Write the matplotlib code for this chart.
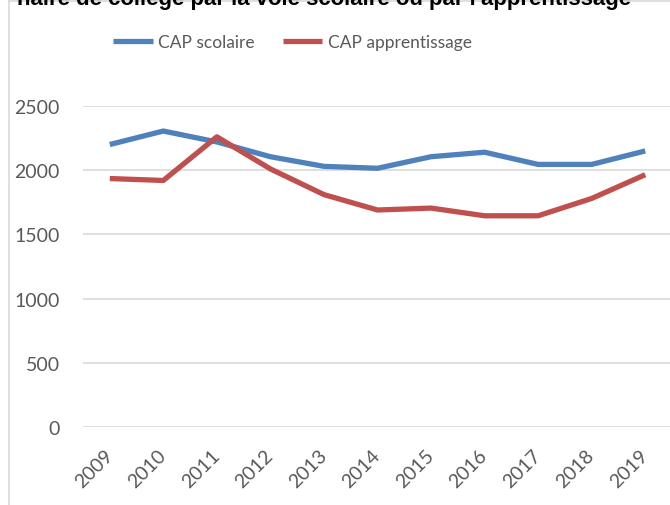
import matplotlib.pyplot as plt
from matplotlib.transforms import ScaledTranslation

years = ['2009', '2010', '2011', '2012', '2013', '2014', '2015', '2016', '2017', '2018', '2019']
cap_scolaire = [2200, 2305, 2220, 2105, 2030, 2015, 2105, 2140, 2045, 2045, 2150]
cap_apprentissage = [1935, 1920, 2260, 2010, 1810, 1690, 1705, 1645, 1645, 1780, 1965]
y_ticks = [0, 500, 1000, 1500, 2000, 2500]

W, H = 670, 506
fig = plt.figure(figsize=(W / 100, H / 100), dpi=100)

# zone du graphique (pixels -> fractions de la figure)
left, right, top, bottom = 83, 672, 107, 428
ax = fig.add_axes([left / W, 1 - bottom / H, (right - left) / W, (bottom - top) / H])

x = list(range(len(years)))
ax.plot(x, cap_scolaire, color='#4F81BD', lw=3.8, label='CAP scolaire', solid_capstyle='butt')
ax.plot(x, cap_apprentissage, color='#C0504D', lw=3.8, label='CAP apprentissage', solid_capstyle='butt')

ax.set_xlim(-0.5, 10.5)
ax.set_ylim(0, 2500)
ax.set_yticks(y_ticks)
ax.set_xticks(x)
ax.set_xticklabels(years, rotation=45, ha='right', va='top', rotation_mode='anchor')
ax.tick_params(axis='both', length=0, labelsize=14, labelcolor='#595959')
ax.tick_params(axis='y', pad=23 * 72 / 100)
ax.tick_params(axis='x', pad=14)
shift = ScaledTranslation(-6 / 100, 0, fig.dpi_scale_trans)
for lab in ax.get_xticklabels():
    lab.set_family('Lato')
    lab.set_transform(lab.get_transform() + shift)
for lab in ax.get_yticklabels():
    lab.set_family('Lato')
ax.grid(True, axis='y', color='#D9D9D9', lw=1.2)
ax.set_axisbelow(True)
for s in ax.spines.values():
    s.set_visible(False)

leg = fig.legend(loc='center left', bbox_to_anchor=(113 / W, 1 - 43 / H), ncol=2, frameon=False,
                 prop={'family': 'Lato', 'size': 12.5}, handlelength=2.3, columnspacing=1.6,
                 handletextpad=0.3, borderpad=0, borderaxespad=0)
for t in leg.get_texts():
    t.set_color('#595959')

# cadre du graphique (capture recadrée)
fig.add_artist(plt.Line2D([8.5 / W, 8.5 / W], [0, 1 - 2 / H], color='#D9D9D9', lw=1.2))
fig.add_artist(plt.Line2D([8.5 / W, 1], [1 - 2 / H, 1 - 2 / H], color='#D9D9D9', lw=1.2))

# titre coupé en haut de l'image
fig.text(17 / W, 1 - 5 / H, "naire de collège par la voie scolaire ou par l'apprentissage",
         family='Liberation Sans', weight='bold', size=15.9, color='black',
         ha='left', va='baseline')

fig.savefig('out.png', dpi=100)
